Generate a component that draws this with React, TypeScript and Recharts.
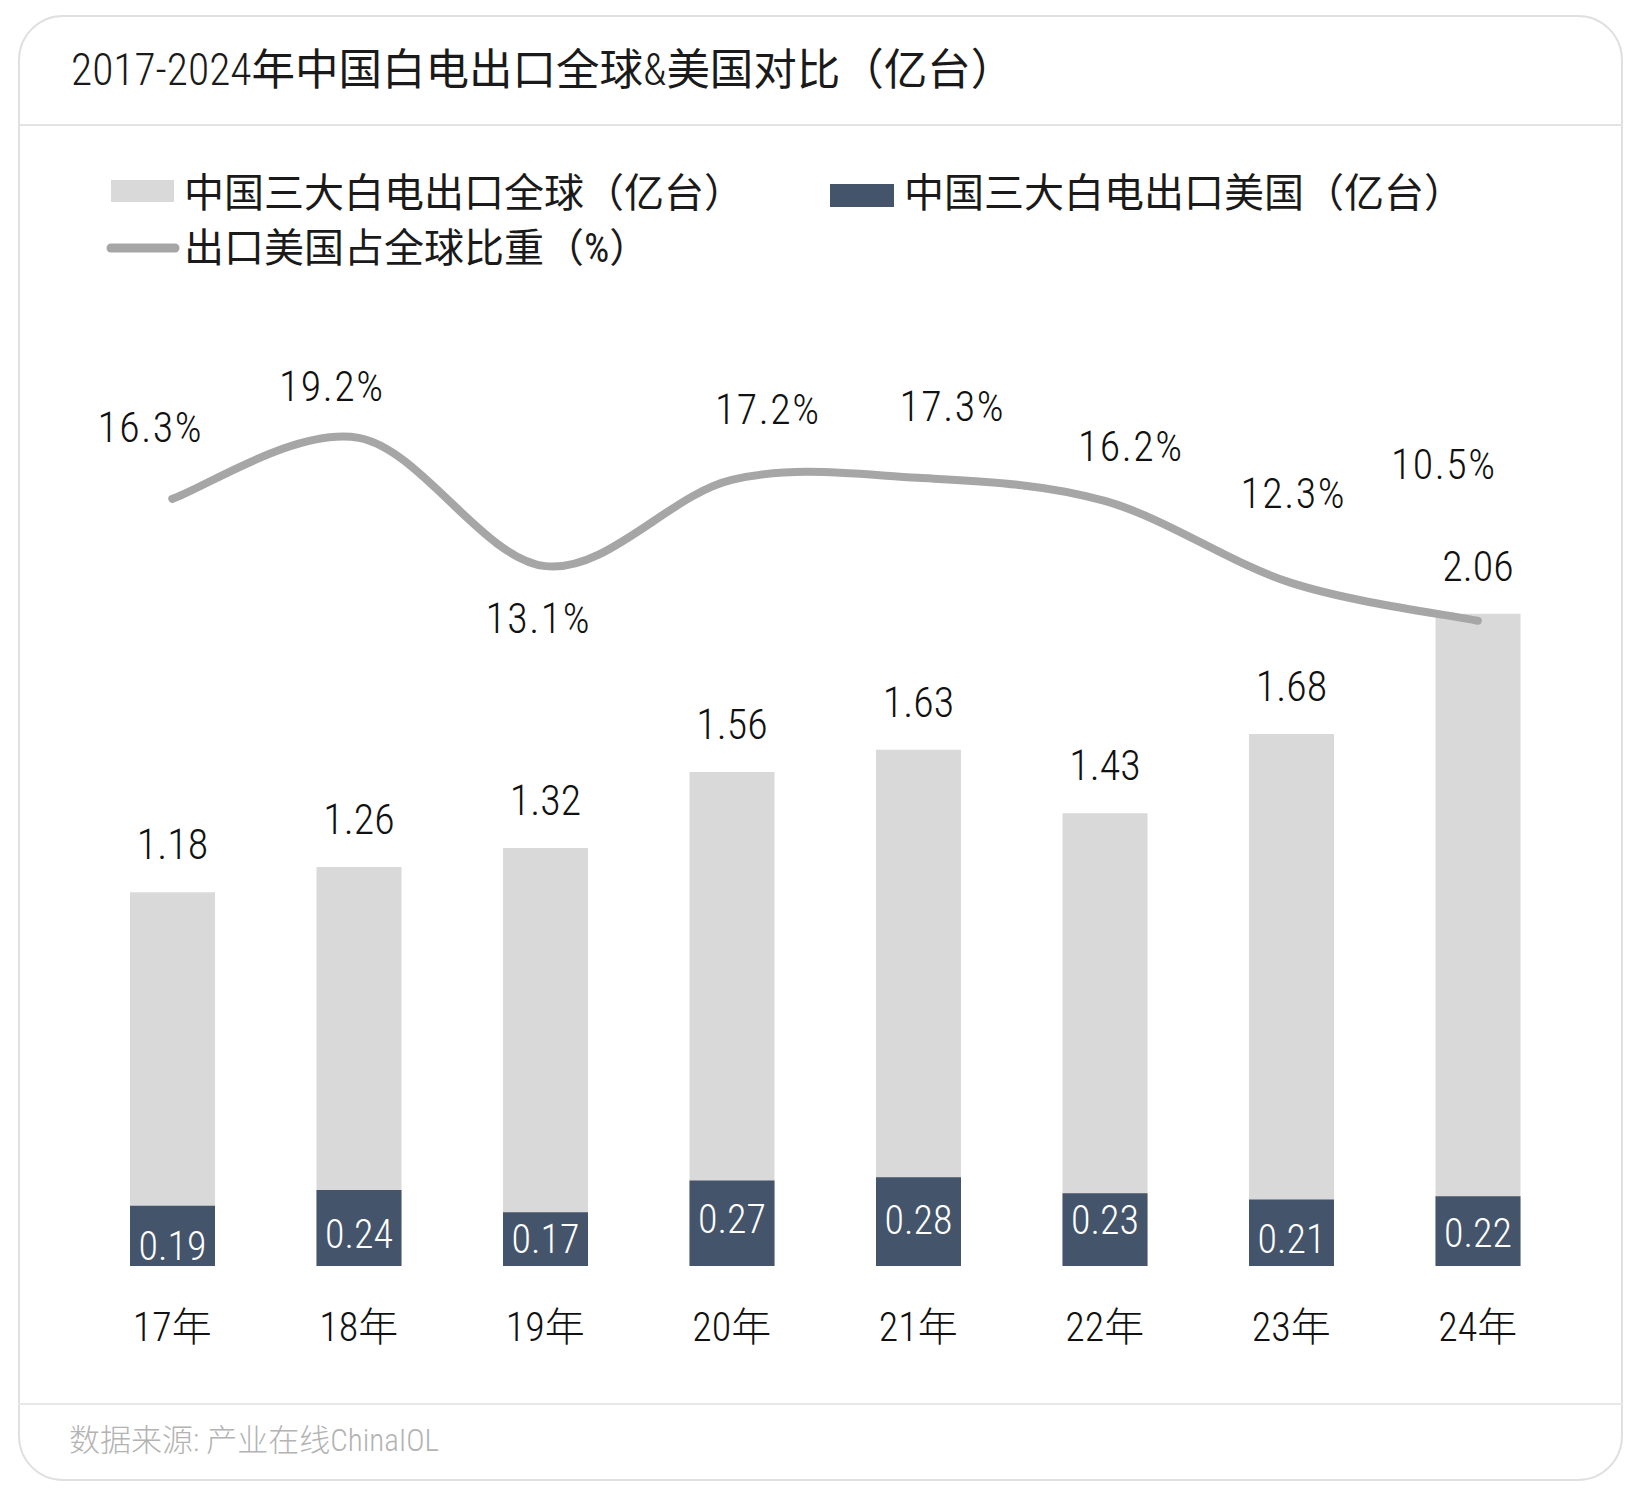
import React from 'react';
import { ComposedChart, Bar, Line, XAxis, YAxis, LabelList } from 'recharts';

// chart values
const years = ['17年', '18年', '19年', '20年', '21年', '22年', '23年', '24年'];
const globalExports = [1.18, 1.26, 1.32, 1.56, 1.63, 1.43, 1.68, 2.06];
const usExports = [0.19, 0.24, 0.17, 0.27, 0.28, 0.23, 0.21, 0.22];
const usShare = [16.3, 19.2, 13.1, 17.2, 17.3, 16.2, 12.3, 10.5];

// hand placement of the percentage labels, relative to each line point
const shareLabelShift = [
  [-22, -57],
  [-27, -37],
  [-7, 67],
  [36, -56],
  [34, -57],
  [26, -40],
  [2, -75],
  [-34, -142],
];
// small vertical nudges of the labels inside the dark bars
const usLabelShift = [10, 6, 0, -4, -2, -10, 6, 2];

const data = years.map((year, i) => ({
  year,
  global: globalExports[i],
  us: usExports[i],
  share: usShare[i],
}));

const FONT = "'Roboto Condensed', 'Noto Sans CJK SC', sans-serif";
const GREY_BAR = '#d9d9d9';
const DARK_BAR = '#44546a';
const LINE_COLOR = '#a6a6a6';

// Catmull-Rom style smoothing, similar to a spreadsheet "smoothed line"
function smoothCurve(context: any) {
  let pts: number[][] = [];
  return {
    areaStart() {},
    areaEnd() {},
    lineStart() {
      pts = [];
    },
    point(x: number, y: number) {
      pts.push([+x, +y]);
    },
    lineEnd() {
      const n = pts.length;
      if (!n) return;
      context.moveTo(pts[0][0], pts[0][1]);
      for (let i = 0; i < n - 1; i++) {
        const p0 = pts[Math.max(i - 1, 0)];
        const p1 = pts[i];
        const p2 = pts[i + 1];
        const p3 = pts[Math.min(i + 2, n - 1)];
        context.bezierCurveTo(
          p1[0] + (p2[0] - p0[0]) / 6,
          p1[1] + (p2[1] - p0[1]) / 6,
          p2[0] - (p3[0] - p1[0]) / 6,
          p2[1] - (p3[1] - p1[1]) / 6,
          p2[0],
          p2[1]
        );
      }
    },
  };
}

function ShareLabel(props: any) {
  const vb = props.viewBox || {};
  const x = props.x ?? vb.x;
  const y = props.y ?? vb.y;
  const shift = shareLabelShift[props.index] || [0, -40];
  return (
    <text
      x={x + shift[0]}
      y={y + shift[1]}
      textAnchor="middle"
      fontFamily={FONT}
      fontWeight={300}
      fontSize={42}
      letterSpacing={1.5}
      fill="#111"
    >
      {props.value}%
    </text>
  );
}

function UsLabel(props: any) {
  const vb = props.viewBox || {};
  const x = props.x ?? vb.x;
  const y = props.y ?? vb.y;
  const w = props.width ?? vb.width;
  const h = props.height ?? vb.height;
  const shift = usLabelShift[props.index] || 0;
  return (
    <text
      x={x + w / 2}
      y={y + h / 2 + shift + 14}
      textAnchor="middle"
      fontFamily={FONT}
      fontWeight={300}
      fontSize={40}
      fill="#fff"
    >
      {Number(props.value).toFixed(2)}
    </text>
  );
}

function Headers() {
  return (
    <svg
      width={1634}
      height={1494}
      style={{ position: 'absolute', left: 0, top: 0 }}
      fontFamily={FONT}
    >
      <text x={71} y={85} fontSize={43.5} fill="#1a1a1a">
        <tspan fontWeight={300}>2017-2024</tspan>
        年中国白电出口全球
        <tspan fontWeight={300}>&</tspan>
        美国对比（亿台）
      </text>
      <line x1={18} x2={1623} y1={125} y2={125} stroke="#e3e3e3" strokeWidth={2} />

      <rect x={111} y={180} width={63} height={22} fill={GREY_BAR} />
      <text x={184} y={207} fontSize={40} fill="#1a1a1a">
        中国三大白电出口全球（亿台）
      </text>
      <rect x={830} y={184} width={64} height={23} fill={DARK_BAR} />
      <text x={904} y={207} fontSize={40} fill="#1a1a1a">
        中国三大白电出口美国（亿台）
      </text>
      <line
        x1={111}
        x2={175}
        y1={248}
        y2={248}
        stroke={LINE_COLOR}
        strokeWidth={9}
        strokeLinecap="round"
      />
      <text x={184} y={262} fontSize={40} fill="#1a1a1a">
        出口美国占全球比重（%）
      </text>

      <line x1={18} x2={1623} y1={1404} y2={1404} stroke="#e8e8e8" strokeWidth={2} />
      <text x={69} y={1451} fontSize={31} fontWeight={300} fill="#b3b3b3">
        数据来源: 产业在线ChinaIOL
      </text>
    </svg>
  );
}

export default function App() {
  return (
    <div style={{ position: 'relative', width: 1634, height: 1494, background: '#fff' }}>
      <style>{'body{margin:0;}'}</style>
      <div
        style={{
          position: 'absolute',
          left: 18,
          top: 15,
          width: 1605,
          height: 1466,
          border: '2px solid #e0e0e0',
          borderRadius: 45,
          boxSizing: 'border-box',
        }}
      />
      <Headers />
      <div style={{ position: 'absolute', left: 0, top: 280 }}>
        <ComposedChart
          width={1634}
          height={1100}
          data={data}
          margin={{ top: 36, right: 63, bottom: 54, left: 79 }}
          barGap={-85}
        >
          <XAxis
            dataKey="year"
            axisLine={false}
            tickLine={false}
            tickSize={0}
            tickMargin={47}
            height={60}
            interval={0}
            tick={{ fontFamily: FONT, fontWeight: 300, fontSize: 40, fill: '#111' }}
          />
          <YAxis yAxisId="bar" hide domain={[0, 3]} allowDataOverflow />
          <YAxis yAxisId="share" hide domain={[-20.2, 25]} allowDataOverflow orientation="right" />
          <Bar yAxisId="bar" dataKey="global" fill={GREY_BAR} barSize={85} isAnimationActive={false}>
            <LabelList
              dataKey="global"
              position="top"
              offset={33}
              formatter={(v: any) => Number(v).toFixed(2)}
              style={{ fontFamily: FONT, fontWeight: 300, fontSize: 42, fill: '#111' }}
            />
          </Bar>
          <Bar yAxisId="bar" dataKey="us" fill={DARK_BAR} barSize={85} isAnimationActive={false}>
            <LabelList dataKey="us" content={UsLabel} />
          </Bar>
          <Line
            yAxisId="share"
            dataKey="share"
            type={smoothCurve as any}
            stroke={LINE_COLOR}
            strokeWidth={8}
            strokeLinecap="round"
            dot={false}
            activeDot={false}
            isAnimationActive={false}
          >
            <LabelList dataKey="share" content={ShareLabel} />
          </Line>
        </ComposedChart>
      </div>
    </div>
  );
}
